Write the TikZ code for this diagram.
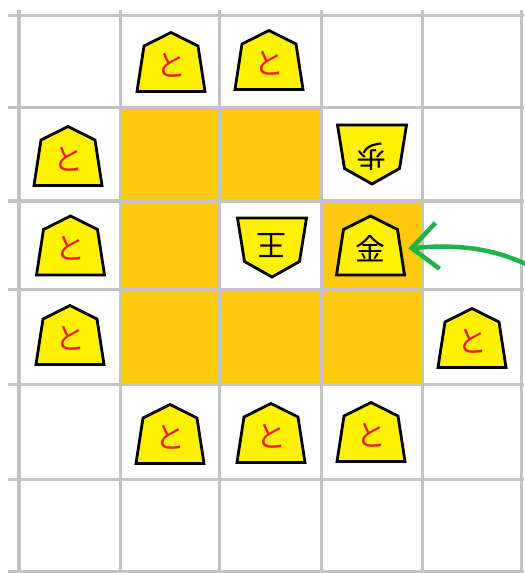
\documentclass[tikz,border=0pt]{standalone}
\usepackage{fontspec}
\newfontfamily\jpfont{Noto Sans CJK JP}
\usepackage{tikz}
\usetikzlibrary{arrows.meta}
\definecolor{kgrid}{HTML}{C3C3C3}
\definecolor{kgold}{HTML}{FFC90E}
\definecolor{kyellow}{HTML}{FFF200}
\definecolor{kred}{HTML}{ED1C24}
\definecolor{kgreen}{HTML}{22B14C}
\tikzset{
  gridline/.style={kgrid, line width=0.03cm},
  hicell/.style={fill=kgold},
  komabody/.style={draw=black, fill=kyellow, line width=0.028cm},
  tokin/.style={text=kred, font=\jpfont\fontsize{8.5}{8.5}\selectfont, inner sep=0pt},
  koma/.style={text=black, font=\jpfont\fontsize{8.5}{8.5}\selectfont, inner sep=0pt},
  arr/.style={-{Straight Barb[length=0.26cm, width=0.46cm]}, kgreen,
              line width=0.045cm, line cap=round},
}

\begin{document}
\begin{tikzpicture}[x=0.01cm, y=-0.01cm]
  \useasboundingbox (0,0) rectangle (524,573);

  %% ── Highlighted squares ──
  \foreach \xa/\xb/\ya/\yb in {120/219/108/201, 219/321/108/201,
                               120/219/201/289, 321/422/201/289,
                               120/219/289/384, 219/321/289/384, 321/422/289/384}{
    \fill[hicell] (\xa,\ya) rectangle (\xb,\yb);
  }

  %% ── Board grid ──
  \foreach \x in {19,120,219,321,422,521}
    \draw[gridline] (\x,10) -- (\x,573);
  \foreach \y in {16,108,201,289,384,479,571}
    \draw[gridline] (8,\y) -- (524,\y);

  %% ── Tokin (upright, red) ──
  \foreach \x/\y [count=\i] in {171/62, 269/60, 68/156, 70.5/245.5, 70/335,
                                472/338, 170/434, 271/433, 371/432}{
    \draw[komabody] (\x,\y-29.5) -- (\x+27,\y-16) -- (\x+34,\y+29.5)
      -- (\x-34,\y+29.5) -- (\x-27,\y-16) -- cycle;
    \node[tokin] (tokin\i) at (\x,\y+3) {と};
  }

  %% ── Gold (upright, black) ──
  \draw[komabody] (370.5,216) -- (397.5,229.5) -- (404.5,275)
    -- (336.5,275) -- (343.5,229.5) -- cycle;
  \node[koma, minimum width=0.74cm] (kin) at (370.5,248.5) {金};

  %% ── Opponent pieces (inverted) ──
  \foreach \x/\y/\c/\dy [count=\i] in {372/154.5/歩/2, 272/247.5/王/-2}{
    \draw[komabody] (\x-34.5,\y-29.5) -- (\x+34.5,\y-29.5) -- (\x+27.5,\y+14)
      -- (\x,\y+29.5) -- (\x-27.5,\y+14) -- cycle;
    \node[koma, rotate=180] (gote\i) at (\x,\y+\dy) {\c};
  }

  %% ── Arrow to the gold ──
  \coordinate (tail) at (528,265);
  \draw[arr] (tail) .. controls (500,252) and (468,243) .. (kin.east);

\end{tikzpicture}
\end{document}
